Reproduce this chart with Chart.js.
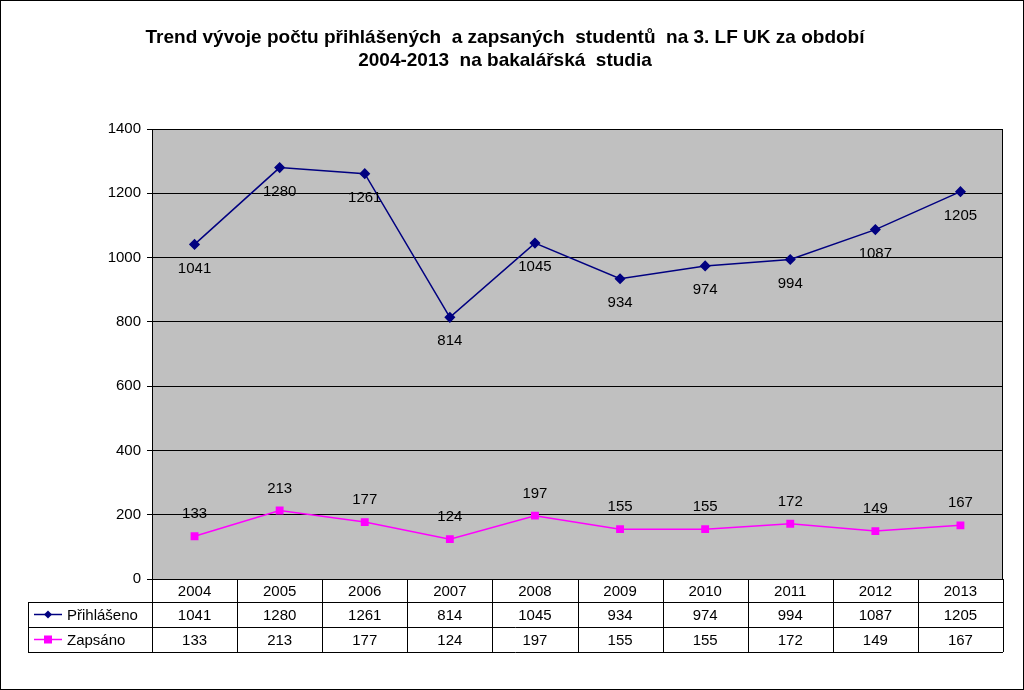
<!DOCTYPE html>
<html><head><meta charset="utf-8">
<script src="https://cdn.jsdelivr.net/npm/chart.js@4"></script>
<style>html,body{margin:0;padding:0;background:#fff}#w{width:1024px;height:690px}</style>
</head><body><div id="w"><canvas id="c" width="1024" height="690"></canvas></div>
<script>
const years = ['2004','2005','2006','2007','2008','2009','2010','2011','2012','2013'];
const prihlaseno = [1041,1280,1261,814,1045,934,974,994,1087,1205];
const zapsano = [133,213,177,124,197,155,155,172,149,167];
const seriesNames = ['Přihlášeno','Zapsáno'];
const titleLines = ['Trend vývoje počtu přihlášených  a zapsaných  studentů  na 3. LF UK za období','2004-2013  na bakalářská  studia'];
const FONT = '"Liberation Sans", Arial, sans-serif';

const deco = {
  id:'deco',
  beforeDraw(ch){
    const {ctx, chartArea:a} = ch;
    ctx.save();
    ctx.fillStyle='#c0c0c0';
    ctx.fillRect(a.left,a.top,a.right-a.left,a.bottom-a.top);
    ctx.restore();
  },
  afterDraw(ch){
    const {ctx, chartArea:a, scales:{x}} = ch;
    ctx.save();
    ctx.strokeStyle='#000'; ctx.lineWidth=1;
    ctx.strokeRect(0.5,0.5,1023,689);
    ctx.strokeRect(a.left+0.5,a.top+0.5,a.right-a.left-1,a.bottom-a.top);
    ctx.fillStyle='#000'; ctx.font='bold 19px '+FONT; ctx.textAlign='center'; ctx.textBaseline='middle';
    ctx.fillText(titleLines[0],505,38); ctx.fillText(titleLines[1],505,61);
    const rows=[a.bottom,a.bottom+23,a.bottom+48,a.bottom+73];
    const legL=28, n=years.length, cw=(a.right-a.left)/n;
    ctx.beginPath();
    ctx.moveTo(a.left,rows[1]+0.5);ctx.lineTo(a.right,rows[1]+0.5);
    [rows[1],rows[2],rows[3]].forEach(y=>{ctx.moveTo(legL,y+0.5);ctx.lineTo(a.right,y+0.5);});
    ctx.moveTo(legL+0.5,rows[1]);ctx.lineTo(legL+0.5,rows[3]);
    for(let i=0;i<=n;i++){const xx=Math.round(a.left+i*cw)+0.5;ctx.moveTo(xx,rows[0]);ctx.lineTo(xx,rows[3]);}
    ctx.stroke();
    ctx.font='15px '+FONT;
    const data=[prihlaseno,zapsano];
    years.forEach((yv,i)=>{
      const cx=x.getPixelForValue(i);
      ctx.fillText(yv,cx,(rows[0]+rows[1])/2+1);
      ctx.fillText(String(data[0][i]),cx,(rows[1]+rows[2])/2+1);
      ctx.fillText(String(data[1][i]),cx,(rows[2]+rows[3])/2+1);
    });
    const cols=['#000080','#ff00ff'];
    [0,1].forEach(k=>{
      const y=(rows[1+k]+rows[2+k])/2;
      ctx.strokeStyle=cols[k];ctx.lineWidth=1.5;
      ctx.beginPath();ctx.moveTo(34,y);ctx.lineTo(62,y);ctx.stroke();
      ctx.fillStyle=cols[k];
      if(k==0){ctx.beginPath();ctx.moveTo(48,y-4);ctx.lineTo(52,y);ctx.lineTo(48,y+4);ctx.lineTo(44,y);ctx.closePath();ctx.fill();}
      else ctx.fillRect(44,y-4,8,8);
      ctx.fillStyle='#000';ctx.textAlign='left';
      ctx.fillText(seriesNames[k],67,y+1);ctx.textAlign='center';
    });
    ch.data.datasets.forEach((ds,di)=>{
      ch.getDatasetMeta(di).data.forEach((p,i)=>{
        ctx.fillText(String(ds.data[i]), p.x, di==0 ? p.y+24 : p.y-22);
      });
    });
    ctx.restore();
  }
};

new Chart(document.getElementById('c'),{
  type:'line',
  data:{labels:years,datasets:[
    {label:seriesNames[0],data:prihlaseno,borderColor:'#000080',backgroundColor:'#000080',borderWidth:1.5,pointStyle:'rectRot',pointRadius:4.5,pointHoverRadius:4.5,tension:0},
    {label:seriesNames[1],data:zapsano,borderColor:'#ff00ff',backgroundColor:'#ff00ff',borderWidth:1.5,pointStyle:'rect',pointRadius:4.5,pointHoverRadius:4.5,tension:0}
  ]},
  options:{
    responsive:false,animation:false,
    layout:{padding:{top:129,right:21,left:0,bottom:0}},
    plugins:{legend:{display:false},title:{display:false},tooltip:{enabled:false}},
    scales:{
      x:{offset:true,grid:{display:false},border:{display:false},ticks:{display:false},afterFit(s){s.height=111;}},
      y:{min:0,max:1400,ticks:{stepSize:200,color:'#000',font:{family:FONT,size:15},padding:6,callback:v=>String(v)},
         grid:{color:'#000',drawTicks:true,tickLength:5,lineWidth:1},border:{color:'#000'},
         afterFit(s){s.width=152;}}
    }
  },
  plugins:[deco]
});
</script></body></html>
